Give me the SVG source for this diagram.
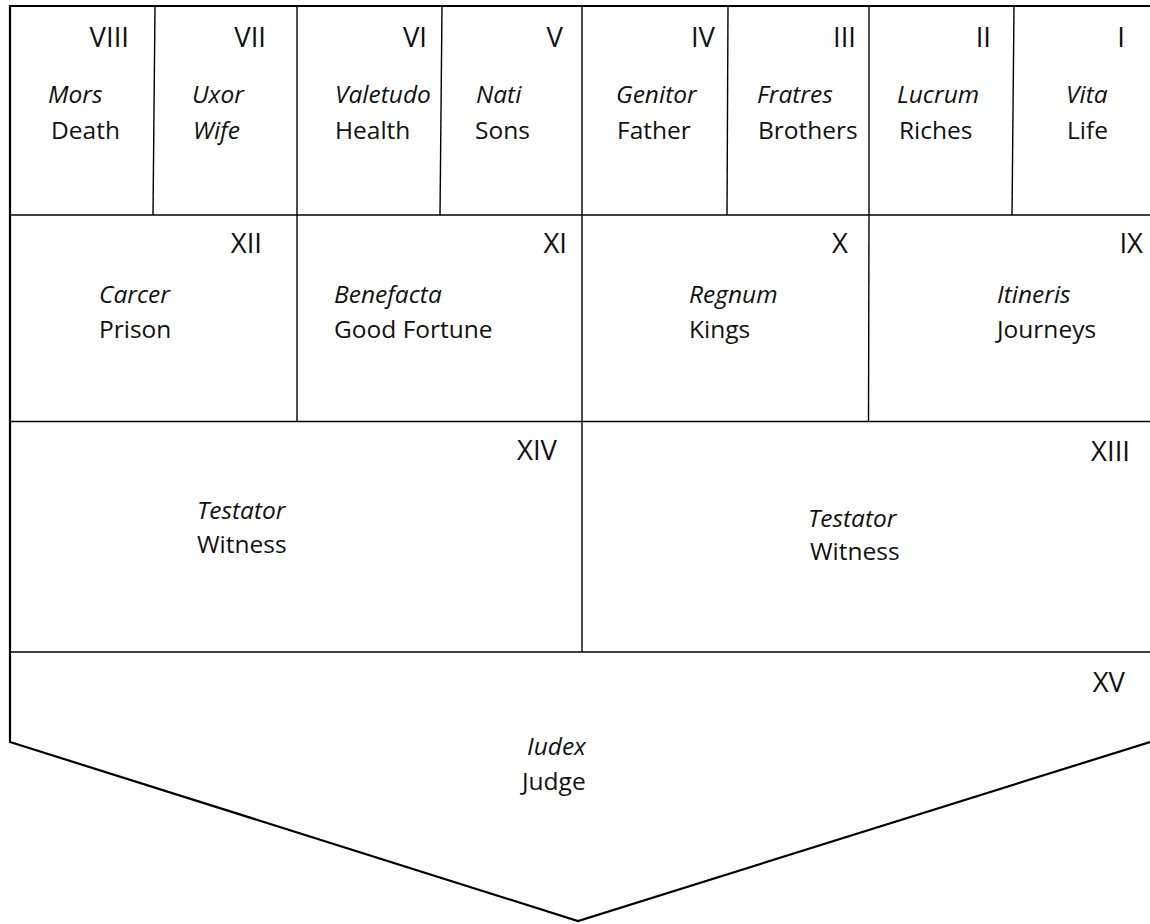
<svg xmlns="http://www.w3.org/2000/svg" width="1150" height="924" viewBox="0 0 1150 924">
<style>
.ln{stroke:#000;stroke-width:1.4;fill:none}
.outer{stroke:#000;stroke-width:2.2;fill:none;stroke-linejoin:miter}
text{font-family:"Open Sans","Noto Sans","Liberation Sans",sans-serif;font-size:24.5px;fill:#111}
.n{text-anchor:end;font-size:27.5px}
.i{font-style:italic}
</style>
<rect width="1150" height="924" fill="#fff"/>
<g id="frame">
<path class="outer" d="M1150,6 H10 V742 L578,921 L1150,742"/>
</g>
<g id="connectors">
<line class="ln" x1="10" y1="215" x2="1150" y2="215"/>
<line class="ln" x1="10" y1="421.5" x2="1150" y2="421.5"/>
<line class="ln" x1="10" y1="652" x2="1150" y2="652"/>
<line class="ln" x1="155" y1="7" x2="153" y2="215"/>
<line class="ln" x1="297" y1="7" x2="297" y2="215"/>
<line class="ln" x1="442" y1="7" x2="440" y2="215"/>
<line class="ln" x1="582" y1="7" x2="582" y2="215"/>
<line class="ln" x1="728" y1="7" x2="727" y2="215"/>
<line class="ln" x1="869" y1="7" x2="869" y2="215"/>
<line class="ln" x1="1014" y1="7" x2="1012" y2="215"/>
<line class="ln" x1="297" y1="215" x2="297" y2="421.5"/>
<line class="ln" x1="582" y1="215" x2="582" y2="421.5"/>
<line class="ln" x1="869" y1="215" x2="868.5" y2="421.5"/>
<line class="ln" x1="582" y1="421.5" x2="582" y2="652"/>
</g>
<g id="h8"><text class="n" x="129" y="47">VIII</text><text class="i" x="48" y="103">Mors</text><text x="51" y="139">Death</text></g>
<g id="h7"><text class="n" x="266" y="47">VII</text><text class="i" x="192" y="103">Uxor</text><text class="i" x="193" y="139">Wife</text></g>
<g id="h6"><text class="n" x="427" y="47">VI</text><text class="i" x="335" y="103">Valetudo</text><text x="335" y="139">Health</text></g>
<g id="h5"><text class="n" x="563" y="47">V</text><text class="i" x="476" y="103">Nati</text><text x="475" y="139">Sons</text></g>
<g id="h4"><text class="n" x="715" y="47">IV</text><text class="i" x="616" y="103">Genitor</text><text x="617" y="139">Father</text></g>
<g id="h3"><text class="n" x="856" y="47">III</text><text class="i" x="757" y="103">Fratres</text><text x="758" y="139">Brothers</text></g>
<g id="h2"><text class="n" x="991" y="47">II</text><text class="i" x="897" y="103">Lucrum</text><text x="899" y="139">Riches</text></g>
<g id="h1"><text class="n" x="1125" y="47">I</text><text class="i" x="1066" y="103">Vita</text><text x="1067" y="139">Life</text></g>
<g id="h12"><text class="n" x="262" y="253">XII</text><text class="i" x="99" y="303">Carcer</text><text x="99" y="338">Prison</text></g>
<g id="h11"><text class="n" x="567" y="253">XI</text><text class="i" x="334" y="303">Benefacta</text><text x="334" y="338">Good Fortune</text></g>
<g id="h10"><text class="n" x="848" y="253">X</text><text class="i" x="689" y="303">Regnum</text><text x="689" y="338">Kings</text></g>
<g id="h9"><text class="n" x="1143" y="253">IX</text><text class="i" x="997" y="303">Itineris</text><text x="997" y="338">Journeys</text></g>
<g id="h14"><text class="n" x="557" y="460">XIV</text><text class="i" x="197" y="519">Testator</text><text x="197" y="553">Witness</text></g>
<g id="h13"><text class="n" x="1130" y="461">XIII</text><text class="i" x="808" y="527">Testator</text><text x="810" y="560">Witness</text></g>
<g id="h15"><text class="n" x="1125" y="692">XV</text><text class="i" x="527" y="755">Iudex</text><text x="522" y="790">Judge</text></g>
</svg>
